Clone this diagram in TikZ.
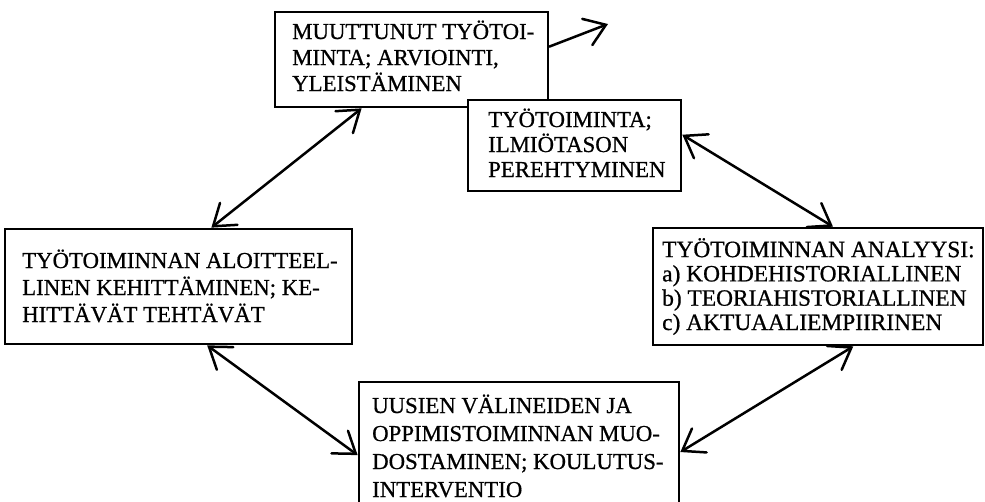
\documentclass[tikz,border=0pt]{standalone}
\usepackage{fontspec}
\setmainfont[FakeBold=0.7]{Liberation Serif}
\usetikzlibrary{arrows.meta,calc}
\tikzset{
  box/.style={draw=black, line width=2.7pt, fill=white, inner sep=0pt, rectangle},
  txt/.style={inner sep=0pt, align=left, anchor=base west},
  conn/.style={line width=2.5pt, line cap=round, {Straight Barb[length=20pt,width=28pt,line cap=round]}-{Straight Barb[length=20pt,width=28pt,line cap=round]}},
  oneway/.style={line width=2.5pt, line cap=round, -{Straight Barb[length=20pt,width=28pt,line cap=round]}}
}
\begin{document}
\begin{tikzpicture}[x=1pt,y=-1pt]
\clip (0,0) rectangle (985,501);
\fill[white] (0,0) rectangle (985,501);
% top box
\node[box, minimum width=273pt, minimum height=95pt] (b1) at (411.5,59.5) {};
\node[txt, font=\fontsize{22.8}{26}\selectfont] (t1) at (292,91) {MUUTTUNUT TYÖTOI-\\MINTA; ARVIOINTI,\\YLEISTÄMINEN};
% second box (overlapping)
\node[box, minimum width=213pt, minimum height=91pt] (b2) at (574.5,145.5) {};
\node[txt, font=\fontsize{22.8}{25}\selectfont] (t2) at (488,177) {TYÖTOIMINTA;\\ILMIÖTASON\\PEREHTYMINEN};
% left box
\node[box, minimum width=347pt, minimum height=115pt] (b3) at (178.5,286.5) {};
\node[txt, font=\fontsize{22.8}{27}\selectfont] (t3) at (22,322) {TYÖTOIMINNAN ALOITTEEL-\\LINEN KEHITTÄMINEN; KE-\\HITTÄVÄT TEHTÄVÄT};
% right box
\node[box, minimum width=330pt, minimum height=117pt] (b4) at (818,286.5) {};
\node[txt, font=\fontsize{23.4}{24.3}\selectfont] (t4) at (662,330) {TYÖTOIMINNAN ANALYYSI:\\a) KOHDEHISTORIALLINEN\\b) TEORIAHISTORIALLINEN\\c) AKTUAALIEMPIIRINEN};
% bottom box
\node[box, minimum width=320pt, minimum height=131pt] (b5) at (519,447.5) {};
\node[txt, font=\fontsize{22.8}{28}\selectfont] (t5) at (372,497) {UUSIEN VÄLINEIDEN JA\\OPPIMISTOIMINNAN MUO-\\DOSTAMINEN; KOULUTUS-\\INTERVENTIO};
% connectors
\coordinate (out) at (608,24);
\draw[oneway] ($(b1.north east)!0.368!(b1.south east)$) -- (out);
\draw[conn] ($(b3.north west)!0.594!(b3.north east)$) -- ($(b1.south west)!0.319!(b1.south east)$);
\draw[conn] ($(b2.north east)!0.385!(b2.south east)$) -- ($(b4.north west)!0.545!(b4.north east)$);
\draw[conn] ($(b3.south west)!0.582!(b3.south east)$) -- ($(b5.north west)!0.557!(b5.south west)$);
\draw[conn] ($(b5.north east)!0.534!(b5.south east)$) -- ($(b4.south west)!0.606!(b4.south east)$);
\end{tikzpicture}
\end{document}
